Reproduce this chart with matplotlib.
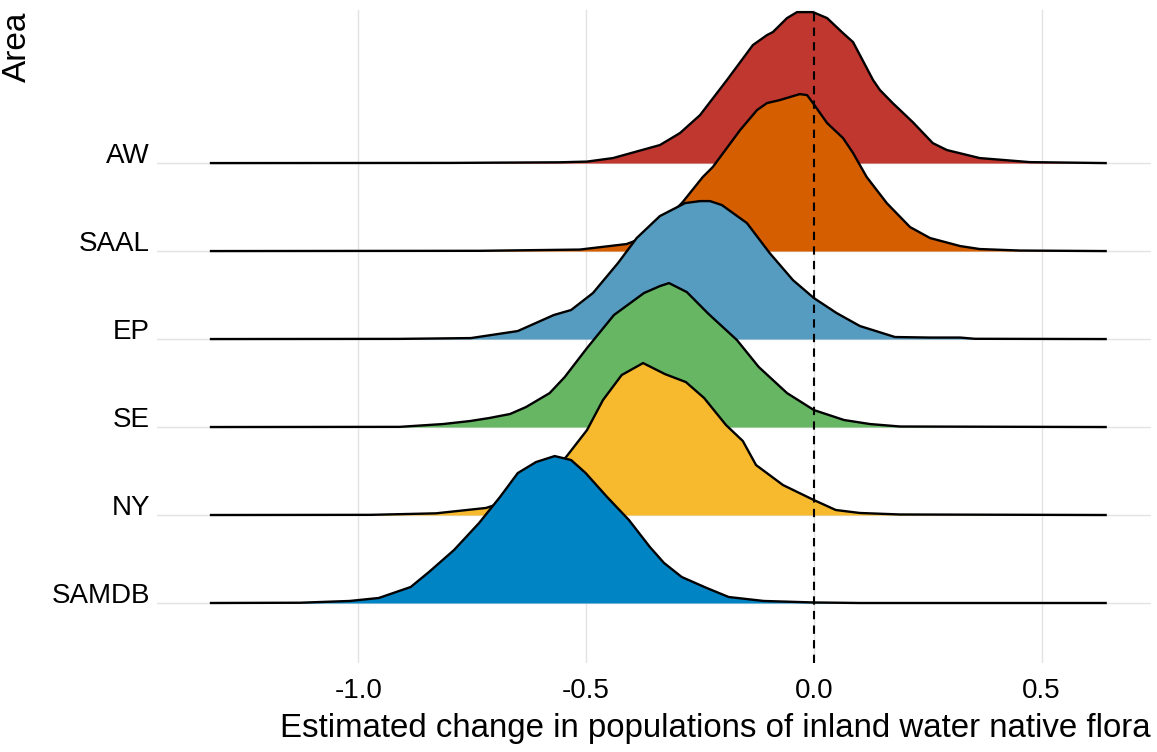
import matplotlib
matplotlib.use("Agg")
import matplotlib.pyplot as plt
import numpy as np

plt.rcParams['font.family'] = ['Liberation Sans', 'DejaVu Sans']

# Areas, bottom to top
areas = ["SAMDB", "NY", "SE", "EP", "SAAL", "AW"]
colors = {"AW": "#C0372F", "SAAL": "#D55E00", "EP": "#569CC0",
          "SE": "#66B663", "NY": "#F7B92E", "SAMDB": "#0084C4"}

# Ridge outlines: x = estimated change, h = ridge height (row units)
aw_x = [-1.326, -0.799, -0.558, -0.498, -0.441, -0.338, -0.294, -0.250, -0.191, -0.134,
        -0.103, -0.090, -0.059, -0.037, -0.002, 0.029, 0.064, 0.086, 0.130, 0.145,
        0.173, 0.217, 0.261, 0.292, 0.364, 0.474, 0.643]
aw_h = [0, 0.002, 0.009, 0.017, 0.057, 0.205, 0.341, 0.545, 0.943, 1.341,
        1.455, 1.489, 1.648, 1.716, 1.716, 1.648, 1.477, 1.375, 0.943, 0.830,
        0.682, 0.466, 0.227, 0.148, 0.057, 0.011, 0]

saal_x = [-1.326, -0.733, -0.514, -0.411, -0.371, -0.327, -0.288, -0.244, -0.222, -0.162,
          -0.125, -0.103, -0.075, -0.046, -0.031, -0.015, -0.002, 0.029, 0.064, 0.086,
          0.116, 0.160, 0.211, 0.255, 0.321, 0.364, 0.452, 0.643]
saal_h = [0, 0.003, 0.017, 0.080, 0.159, 0.341, 0.557, 0.841, 0.955, 1.375,
          1.602, 1.682, 1.716, 1.761, 1.784, 1.773, 1.682, 1.455, 1.284, 1.114,
          0.841, 0.545, 0.273, 0.148, 0.057, 0.023, 0.006, 0]

ep_x = [-1.326, -0.909, -0.753, -0.650, -0.571, -0.533, -0.485, -0.430, -0.389, -0.338,
        -0.283, -0.250, -0.228, -0.202, -0.147, -0.097, -0.046, 0.0, 0.050, 0.101,
        0.178, 0.255, 0.321, 0.353, 0.643]
ep_h = [0, 0.002, 0.011, 0.091, 0.273, 0.330, 0.523, 0.864, 1.148, 1.398,
        1.545, 1.568, 1.568, 1.523, 1.318, 0.977, 0.670, 0.466, 0.295, 0.148,
        0.023, 0.017, 0.017, 0.003, 0]

se_x = [-1.326, -0.909, -0.814, -0.755, -0.713, -0.667, -0.632, -0.580, -0.547, -0.498,
        -0.439, -0.373, -0.338, -0.318, -0.279, -0.231, -0.169, -0.121, -0.059, 0.0,
        0.066, 0.123, 0.189, 0.643]
se_h = [0, 0.002, 0.034, 0.068, 0.102, 0.148, 0.227, 0.386, 0.568, 0.898,
        1.273, 1.523, 1.602, 1.636, 1.534, 1.284, 0.989, 0.682, 0.386, 0.193,
        0.080, 0.034, 0.006, 0]

ny_x = [-1.326, -0.973, -0.830, -0.720, -0.645, -0.591, -0.544, -0.498, -0.463, -0.422,
        -0.375, -0.327, -0.281, -0.241, -0.193, -0.156, -0.127, -0.068, 0.0, 0.048,
        0.101, 0.189, 0.643]
ny_h = [0, 0.002, 0.019, 0.080, 0.205, 0.409, 0.659, 0.966, 1.307, 1.591,
        1.727, 1.602, 1.511, 1.330, 1.023, 0.841, 0.568, 0.341, 0.170, 0.057,
        0.023, 0.006, 0]

samdb_x = [-1.326, -1.128, -1.019, -0.955, -0.885, -0.845, -0.790, -0.735, -0.689, -0.650,
           -0.610, -0.569, -0.533, -0.501, -0.454, -0.406, -0.360, -0.329, -0.290, -0.235,
           -0.187, -0.110, 0.0, 0.101, 0.643]
samdb_h = [0, 0.003, 0.023, 0.057, 0.182, 0.352, 0.602, 0.909, 1.205, 1.477,
           1.602, 1.670, 1.625, 1.477, 1.205, 0.943, 0.636, 0.455, 0.295, 0.170,
           0.068, 0.023, 0.006, 0, 0]

ridges = {"AW": (aw_x, aw_h), "SAAL": (saal_x, saal_h), "EP": (ep_x, ep_h),
          "SE": (se_x, se_h), "NY": (ny_x, ny_h), "SAMDB": (samdb_x, samdb_h)}

x_ticks = [-1.0, -0.5, 0.0, 0.5]
x_tick_labels = ["-1.0", "-0.5", "0.0", "0.5"]

fig = plt.figure(figsize=(11.57, 7.52), dpi=100)
ax = fig.add_axes([157/1157, 89/752, 994/1157, 653/752])

ax.set_xlim(-1.442, 0.740)
ax.set_ylim(0.318, 7.74)

# grid
for xt in x_ticks:
    ax.axvline(xt, color="#E3E3E3", lw=1.0, zorder=0)
for i in range(len(areas)):
    ax.axhline(i + 1, color="#E3E3E3", lw=1.0, zorder=0)

# draw top row first so lower rows overlap it
for k, name in enumerate(reversed(areas)):
    i = areas.index(name)
    base = i + 1
    xs, hs = ridges[name]
    xs = np.asarray(xs)
    ys = base + np.asarray(hs)
    z = 2 + k
    ax.fill_between(xs, base, ys, color=colors[name], lw=0, zorder=z)
    ax.plot(xs, ys, color="black", lw=1.7, zorder=z + 0.5,
            solid_joinstyle="round", solid_capstyle="butt")

ax.axvline(0.0, color="black", lw=1.5, ls=(0, (4, 3)), zorder=20)

ax.set_xticks(x_ticks)
ax.set_xticklabels(x_tick_labels)
ax.set_yticks(range(1, len(areas) + 1))
ax.set_yticklabels(areas, va="baseline")
ax.tick_params(axis="both", length=0, labelsize=20, colors="black")
ax.tick_params(axis="x", pad=11)
ax.tick_params(axis="y", pad=5)
for s in ax.spines.values():
    s.set_visible(False)

ax.set_xlabel("Estimated change in populations of inland water native flora",
              fontsize=23.8, loc="right", labelpad=6)
ax.set_ylabel("Area", fontsize=24, loc="top")
ax.yaxis.set_label_coords(-0.125, 0.997)

fig.savefig("out.png", dpi=100)
